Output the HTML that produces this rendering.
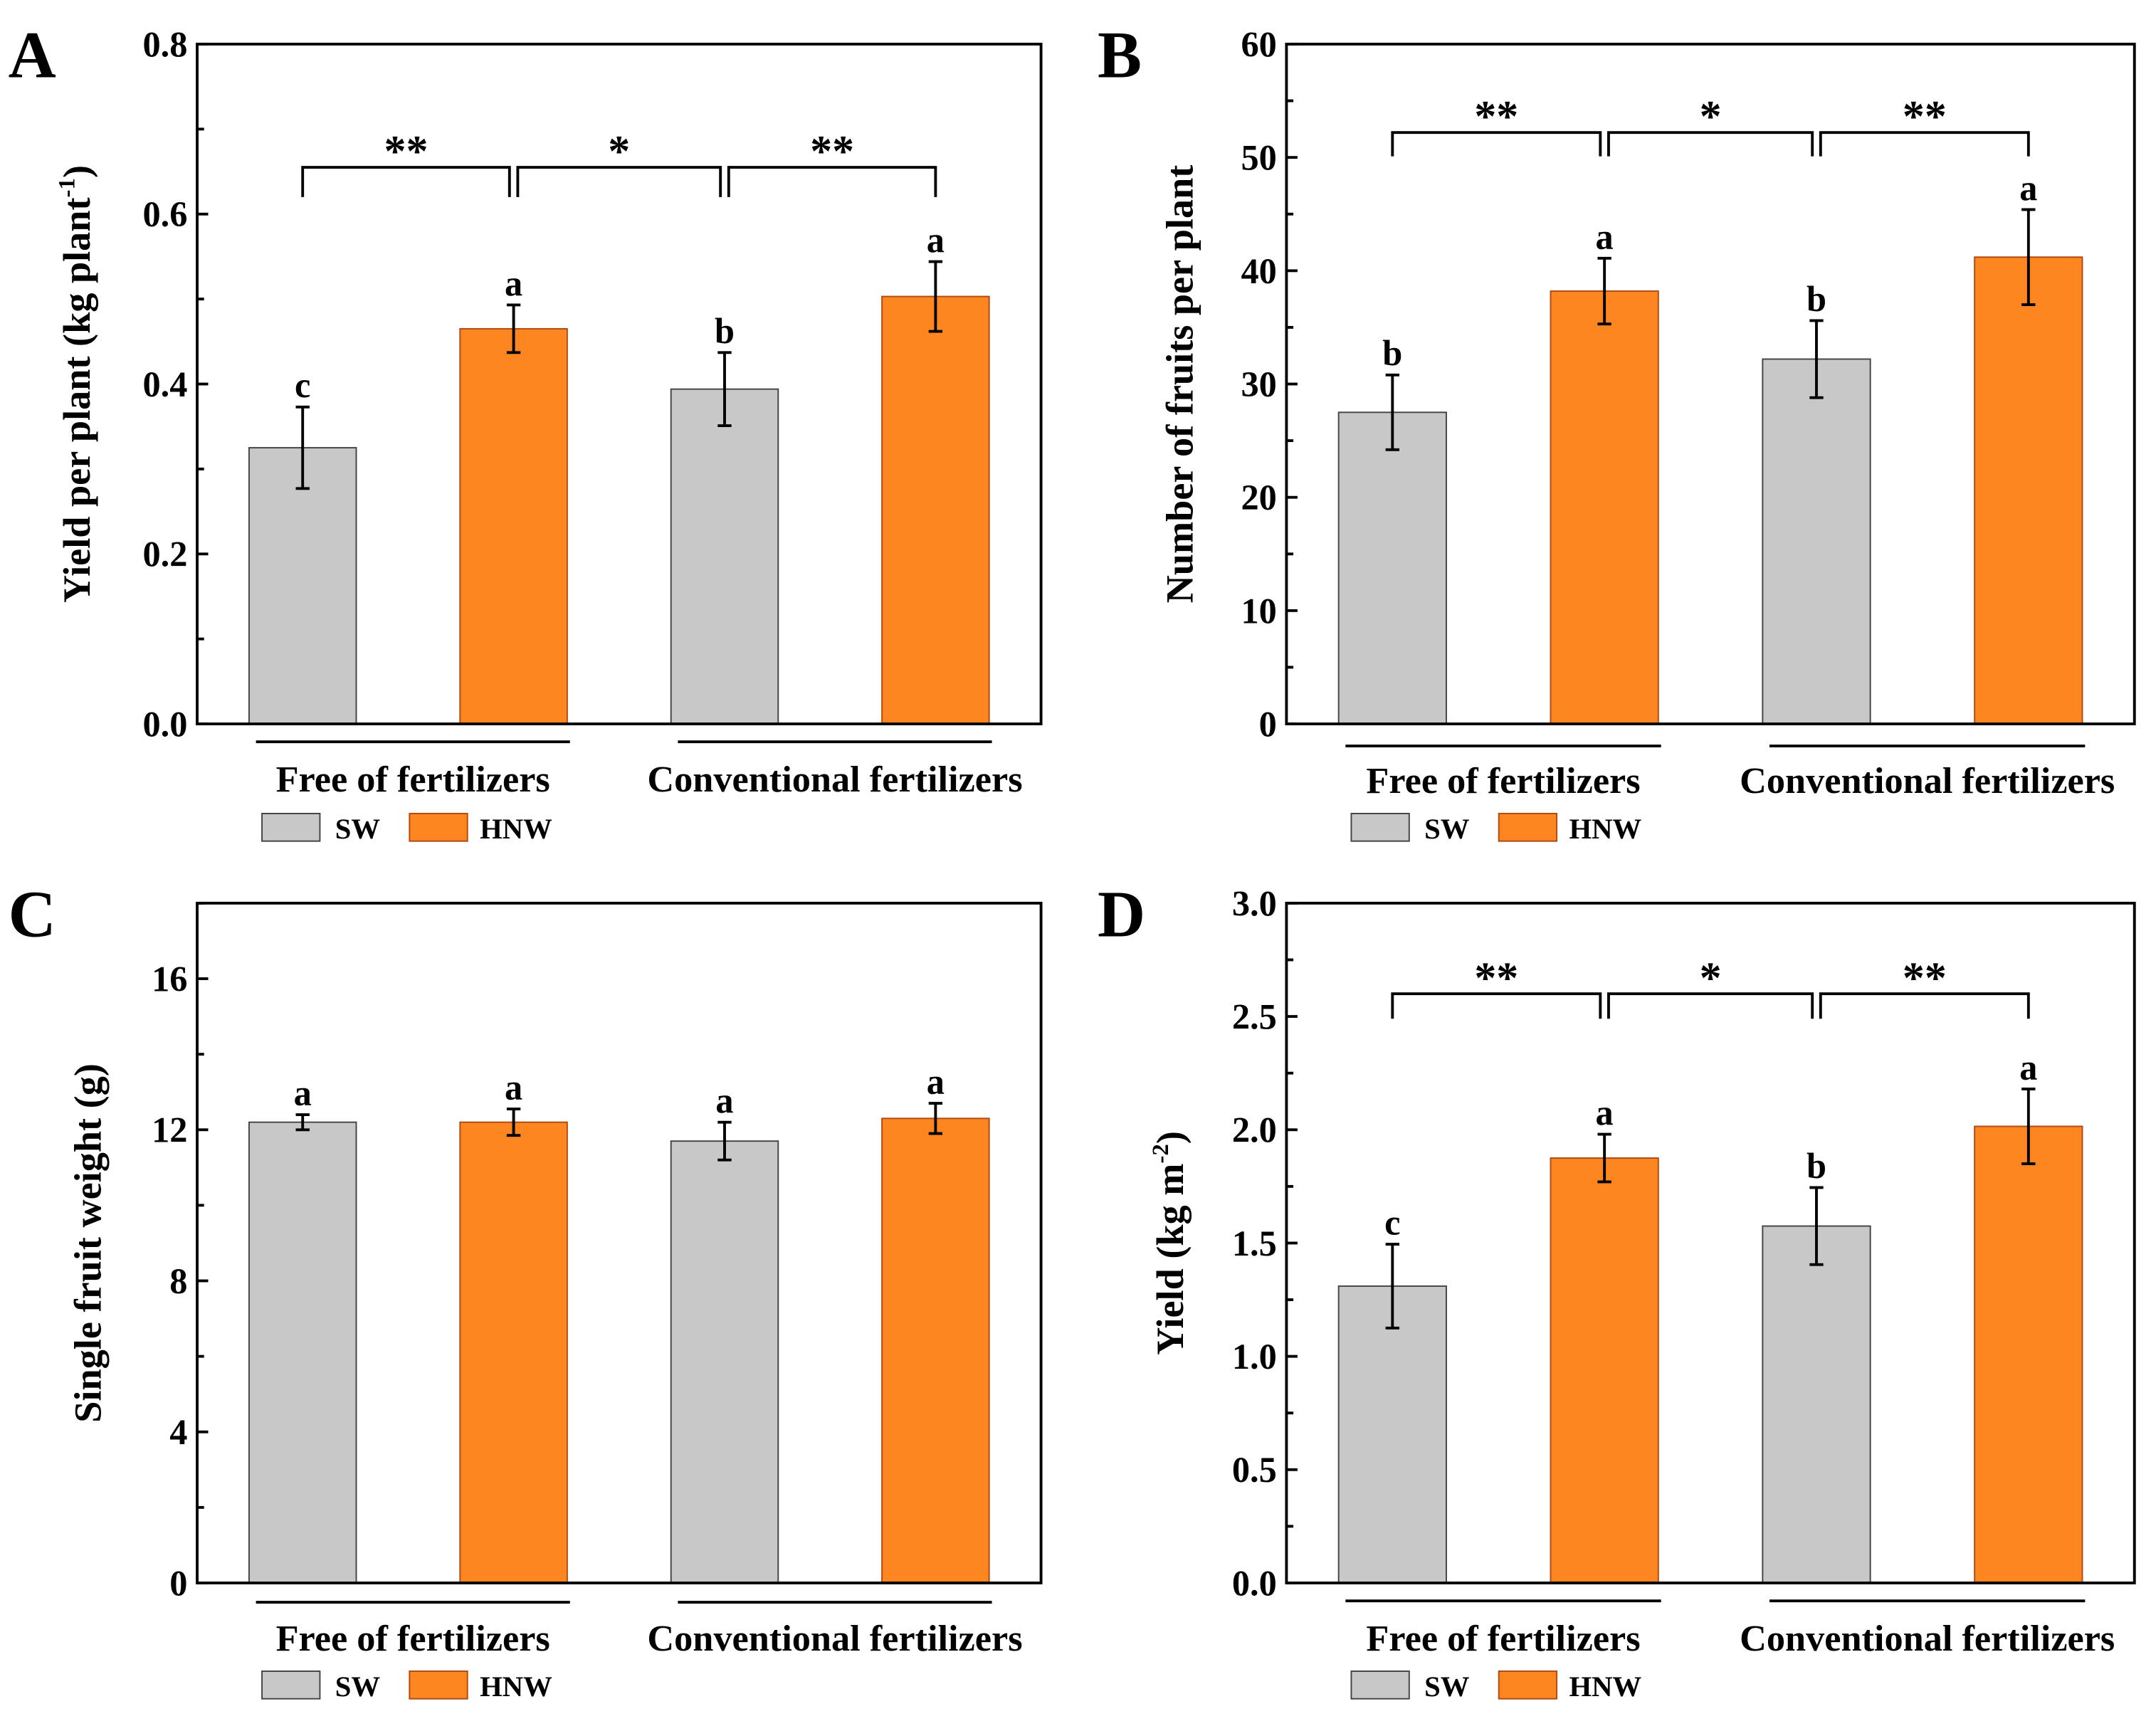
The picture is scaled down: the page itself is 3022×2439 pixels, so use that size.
<!DOCTYPE html>
<html><head><meta charset="utf-8"><style>
html,body{margin:0;padding:0;background:#fff}
svg{display:block}
text{font-family:"Liberation Serif",serif;font-weight:bold;fill:#000}
</style></head><body>
<svg id="fig" width="3022" height="2439" viewBox="0 0 1560 1259" preserveAspectRatio="none" xmlns="http://www.w3.org/2000/svg"></svg>
<script>
const categories=["SW","HNW","SW","HNW"];
const groups=["Free of fertilizers","Conventional fertilizers"];
const valuesA=[0.325,0.465,0.394,0.503];
const errA=[0.048,0.028,0.043,0.041];
const lettersA=["c","a","b","a"];
const valuesB=[27.5,38.2,32.2,41.2];
const errB=[3.3,2.9,3.4,4.2];
const lettersB=["b","a","b","a"];
const valuesC=[12.2,12.2,11.7,12.3];
const errC=[0.2,0.35,0.5,0.4];
const lettersC=["a","a","a","a"];
const valuesD=[1.31,1.875,1.575,2.015];
const errD=[0.185,0.105,0.17,0.165];
const lettersD=["c","a","b","a"];
const ticksA=[0,0.2,0.4,0.6,0.8];
const ticksB=[0,10,20,30,40,50,60];
const ticksC=[0,4,8,12,16];
const ticksD=[0,0.5,1.0,1.5,2.0,2.5,3.0];
const stars=["**","*","**"];

const NS="http://www.w3.org/2000/svg";
const svg=document.getElementById('fig');
function mk(tag,attrs,parent){const e=document.createElementNS(NS,tag);for(const k in attrs)e.setAttribute(k,attrs[k]);(parent||svg).appendChild(e);return e;}

const panels=[
 {id:'a',label:'A',L:143,R:755,T:32,B:525,max:0.8,minor:0.1,ticks:ticksA,dec:1,vals:valuesA,err:errA,let:lettersA,title:'Yield per plant (kg plant',sup:'-1',tx:55,brk:0.655,drop:0.62,ul:538,gl:565,lg:600},
 {id:'b',label:'B',L:933,R:1548,T:32,B:525,max:60,minor:5,ticks:ticksB,dec:0,vals:valuesB,err:errB,let:lettersB,title:'Number of fruits per plant',sup:null,tx:855,brk:52.2,drop:50.1,ul:541,gl:566,lg:600},
 {id:'c',label:'C',L:143,R:755,T:655,B:1148,max:18,minor:2,ticks:ticksC,dec:0,vals:valuesC,err:errC,let:lettersC,title:'Single fruit weight (g)',sup:null,tx:63,brk:null,ul:1162,gl:1188,lg:1222},
 {id:'d',label:'D',L:933,R:1548,T:655,B:1148,max:3,minor:0.25,ticks:ticksD,dec:1,vals:valuesD,err:errD,let:lettersD,title:'Yield (kg m',sup:'-2',tx:848,brk:2.6,drop:2.49,ul:1161,gl:1188,lg:1222}
];

panels.forEach(p=>{
 const g=mk('g',{});
 
 
 const W=p.R-p.L;
 const y=v=>p.B-(v/p.max)*(p.B-p.T);
 const xc=i=>p.L+W*(0.125+0.25*i);
 const bw=W*0.127;
 const pl=mk('text',{x:p.L-137,y:p.T+24,'font-size':48},g);pl.textContent=p.label;
 
 
 p.vals.forEach((v,i)=>{
  const r=mk('rect',{x:xc(i)-bw/2,y:y(v),width:bw,height:p.B-y(v),fill:i%2?'#fe8621':'#c8c8c8',stroke:i%2?'#b04a10':'#444','stroke-width':1},g);
  
  
  const e=p.err[i],yt=y(v+e),yb=y(v-e);
  const eb=mk('path',{d:`M${xc(i)},${yt}V${yb}M${xc(i)-5},${yt}H${xc(i)+5}M${xc(i)-5},${yb}H${xc(i)+5}`,stroke:'#000','stroke-width':2,fill:'none'},g);
  
  
  const lt=mk('text',{x:xc(i),y:yt-7,'font-size':26,'text-anchor':'middle'},g);lt.textContent=p.let[i];
  
  
 });
 const ax=mk('rect',{x:p.L,y:p.T,width:W,height:p.B-p.T,fill:'none',stroke:'#000','stroke-width':2},g);
 
 
 const nMinor=Math.round(p.max/p.minor);
 for(let k=0;k<=nMinor;k++){
  const v=k*p.minor;
  const isMaj=p.ticks.some(t=>Math.abs(t-v)<1e-9);
  mk('line',{x1:p.L,x2:p.L+(isMaj?8:5),y1:y(v),y2:y(v),stroke:'#000','stroke-width':2},g);
 }
 p.ticks.forEach(t=>{
  const tl=mk('text',{x:p.L-7,y:y(t)+9,'font-size':26,'text-anchor':'end'},g);tl.textContent=t.toFixed(p.dec);
  
  
 });
 const cy=(p.T+p.B)/2;
 const yt=mk('text',{x:0,y:0,'font-size':28,'text-anchor':'middle',transform:`translate(${p.tx+10},${cy}) rotate(-90)`},g);
 yt.textContent=p.title;
 if(p.sup){const s=mk('tspan',{'font-size':17,dy:-11},yt);s.textContent=p.sup;const c=mk('tspan',{dy:11},yt);c.textContent=')';}
 
 
 if(p.brk!==null){
  for(let j=0;j<3;j++){
   const x1=xc(j)+(j?3:0),x2=xc(j+1)-(j<2?3:0);
   const b=mk('path',{d:`M${x1},${y(p.drop)}V${y(p.brk)}H${x2}V${y(p.drop)}`,stroke:'#000','stroke-width':2,fill:'none'},g);
   
   
   const s=mk('text',{x:(x1+x2)/2,y:y(p.brk)-1,'font-size':32,'text-anchor':'middle','font-weight':'normal'},g);s.textContent=stars[j];
   
   
  }
 }
 [[0,1],[2,3]].forEach((pr,gi)=>{
  const x1=xc(pr[0])-bw/2+5,x2=xc(pr[1])+bw/2+2;
  const l=mk('line',{x1:x1,x2:x2,y1:p.ul,y2:p.ul,stroke:'#000','stroke-width':2},g);
  
  
  const t=mk('text',{x:(x1+x2)/2,y:p.gl+9,'font-size':27,'text-anchor':'middle'},g);t.textContent=groups[gi];
  
  
 });
 const lx=p.L+47;
 const r1=mk('rect',{x:lx,y:p.lg-10,width:42,height:20,fill:'#c8c8c8',stroke:'#444','stroke-width':1},g);
 
 
 const t1=mk('text',{x:lx+53,y:p.lg+8,'font-size':21},g);t1.textContent='SW';
 
 
 const r2=mk('rect',{x:lx+107,y:p.lg-10,width:42,height:20,fill:'#fe8621',stroke:'#b04a10','stroke-width':1},g);
 
 
 const t2=mk('text',{x:lx+158,y:p.lg+8,'font-size':21},g);t2.textContent='HNW';
 
 
});
</script>
</body></html>
